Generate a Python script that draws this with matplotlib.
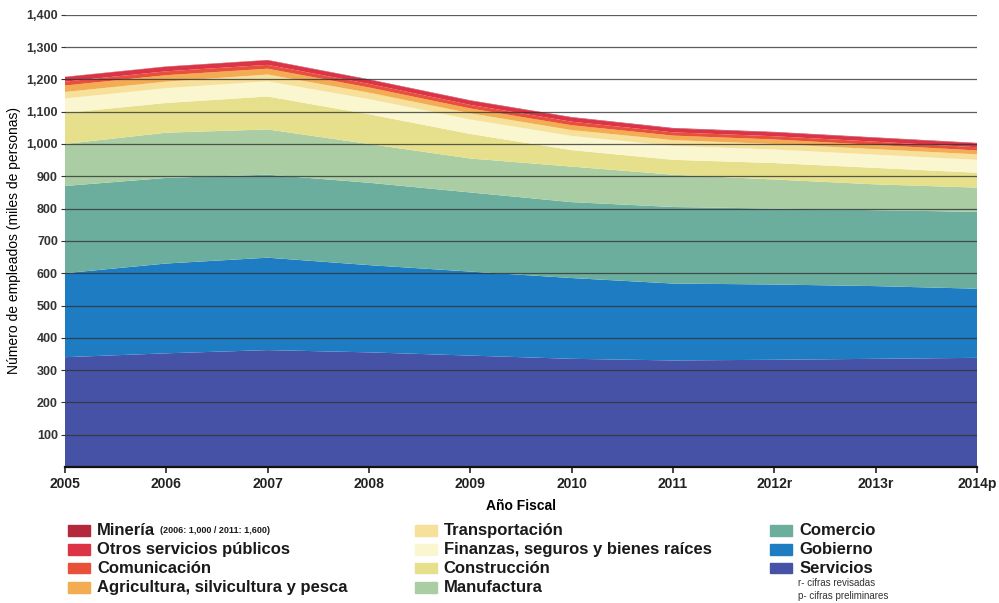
import matplotlib
matplotlib.use("Agg")
import matplotlib.pyplot as plt
from matplotlib.patches import Rectangle
from matplotlib.ticker import FuncFormatter

plt.rcParams['font.family'] = ['Liberation Sans Narrow', 'Liberation Sans', 'DejaVu Sans']

# data (miles de personas), bottom to top of the stack
years = [2005, 2006, 2007, 2008, 2009, 2010, 2011, 2012, 2013, 2014]
year_labels = ['2005', '2006', '2007', '2008', '2009', '2010', '2011', '2012r', '2013r', '2014p']

servicios = [340, 352, 362, 355, 345, 335, 330, 332, 335, 338]
gobierno = [260, 278, 286, 270, 260, 250, 238, 233, 225, 214]
comercio = [270, 265, 257, 255, 245, 235, 237, 235, 235, 238]
manufactura = [130, 140, 140, 120, 105, 110, 100, 90, 80, 75]
construccion = [96, 92, 102, 92, 76, 51, 46, 51, 51, 46]
finanzas = [45, 46, 47, 47, 45, 44, 43, 42, 41, 40]
transportacion = [20, 20, 21, 20, 19, 18, 18, 17, 17, 17]
agricultura = [20, 20, 18, 16, 15, 15, 14, 14, 13, 12]
comunicacion = [12, 12, 12, 11, 11, 11, 10, 10, 10, 10]
otros = [14, 14, 14, 13, 13, 13, 12, 12, 12, 12]
mineria = [1.0, 1.0, 1.1, 1.2, 1.3, 1.4, 1.6, 1.5, 1.4, 1.4]

series = [servicios, gobierno, comercio, manufactura, construccion, finanzas,
          transportacion, agricultura, comunicacion, otros, mineria]
colors = ['#4652a6', '#1d7cc2', '#6cae9d', '#aacda3', '#e6e08c', '#faf6cf',
          '#f6e09a', '#f4ac52', '#e8503a', '#dc3446', '#b3283b']

fig = plt.figure(figsize=(9.99, 6.03), dpi=100)
ax = fig.add_axes([0.065, 0.2255, 0.913, 0.75])

ax.stackplot(years, *series, colors=colors, linewidth=0)

for v in range(100, 1500, 100):
    ax.axhline(v, color='#333333', lw=0.9, alpha=0.8, zorder=3)

ax.set_xlim(2005, 2014)
ax.set_ylim(0, 1400)
ax.set_yticks(range(100, 1500, 100))
ax.yaxis.set_major_formatter(FuncFormatter(lambda v, p: f'{int(v):,}'))
ax.set_xticks(years)
ax.set_xticklabels(year_labels)
ax.tick_params(axis='y', length=3, labelsize=9, colors='#333333', pad=2)
ax.tick_params(axis='x', length=4, width=1.2, labelsize=10, colors='#222222', pad=3)
for lab in ax.get_xticklabels() + ax.get_yticklabels():
    lab.set_fontweight('bold')

for s in ['top', 'right', 'left']:
    ax.spines[s].set_visible(False)
ax.spines['bottom'].set_linewidth(1.6)
ax.spines['bottom'].set_color('#111111')

ax.set_xlabel('Año Fiscal', fontsize=10, fontweight='bold', labelpad=6)
ax.set_ylabel('Número de empleados (miles de personas)', fontsize=10, labelpad=4)

# legend, drawn by hand in three columns
legend_cols = [
    [('Minería', colors[10]), ('Otros servicios públicos', colors[9]),
     ('Comunicación', colors[8]), ('Agricultura, silvicultura y pesca', colors[7])],
    [('Transportación', colors[6]), ('Finanzas, seguros y bienes raíces', colors[5]),
     ('Construcción', colors[4]), ('Manufactura', colors[3])],
    [('Comercio', colors[2]), ('Gobierno', colors[1]), ('Servicios', colors[0])],
]
col_x = [0.068, 0.415, 0.771]
row_y = [0.120, 0.089, 0.058, 0.025]
for cx, entries in zip(col_x, legend_cols):
    for (name, c), ry in zip(entries, row_y):
        fig.add_artist(Rectangle((cx, ry - 0.009), 0.022, 0.018, color=c,
                                 transform=fig.transFigure))
        t = fig.text(cx + 0.029, ry, name, fontsize=12, fontweight='bold',
                     va='center', ha='left', color='#1a1a1a')
        if name == 'Minería':
            fig.canvas.draw()
            ax.annotate('  (2006: 1,000 / 2011: 1,600)', xy=(1, 0.2), xycoords=t,
                        fontsize=6.5, fontweight='bold', va='bottom', ha='left',
                        color='#1a1a1a', annotation_clip=False)

fig.text(0.799, 0.033, 'r- cifras revisadas', fontsize=7, va='center', color='#333333')
fig.text(0.799, 0.012, 'p- cifras preliminares', fontsize=7, va='center', color='#333333')

fig.savefig('out.png', dpi=100)
